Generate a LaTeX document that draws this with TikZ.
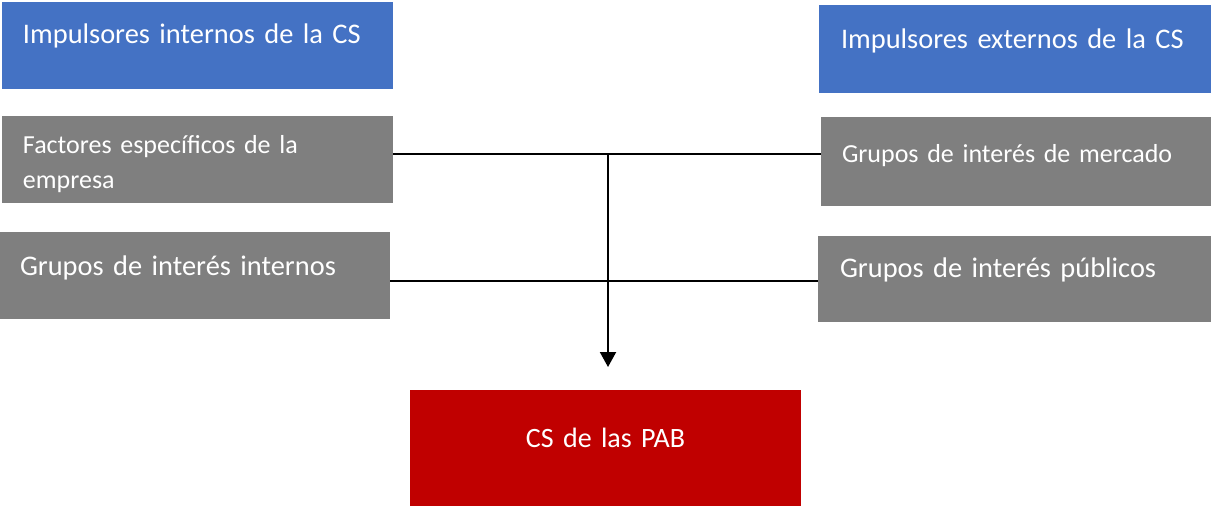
\documentclass[tikz,border=0pt]{standalone}
\usepackage{fontspec}
\usepackage{tikz}
\setmainfont{Carlito}
\usetikzlibrary{arrows.meta}
\definecolor{mblue}{RGB}{68, 114, 196}
\definecolor{mgray}{RGB}{127, 127, 127}
\definecolor{mred}{RGB}{192, 0, 0}

\tikzset{
  impbox/.style={anchor=north west, inner ysep=0pt, outer sep=0pt, align=left, text=white, font=\fontsize{28.4}{35}\selectfont},
  wire/.style={line width=2.5pt, black},
}

\begin{document}
\begin{tikzpicture}[x=1pt, y=-1pt]
    \useasboundingbox (0, 0) rectangle (1212, 506);

    \node [impbox, fill=mblue, inner xsep=21pt, text width=349pt, text height=41pt, text depth=46pt] (intimp) at (2, 2) {Impulsores internos de la CS};
    \node [impbox, fill=mblue, inner xsep=22pt, text width=348pt, text height=43pt, text depth=45pt] (extimp) at (819, 5) {Impulsores externos de la CS};

    \node [impbox, fill=mgray, inner xsep=21pt, text width=349pt, text height=37pt, text depth=50pt, font=\fontsize{26}{35}\selectfont] (fact) at (2, 116) {Factores específicos de la\\empresa};
    \node [impbox, fill=mgray, inner xsep=21pt, text width=348pt, text height=45pt, text depth=44pt, font=\fontsize{26}{35}\selectfont] (merc) at (821, 117) {Grupos de interés de mercado};

    \node [impbox, fill=mgray, inner xsep=20pt, text width=350pt, text height=43pt, text depth=44pt] (intg) at (0, 232) {Grupos de interés internos};
    \node [impbox, fill=mgray, inner xsep=22pt, text width=349pt, text height=41pt, text depth=45pt] (pub) at (818, 236) {Grupos de interés públicos};

    \node [impbox, fill=mred, align=center, inner xsep=0pt, text width=391pt, text height=57pt, text depth=59pt, font=\fontsize{28}{35}\selectfont] (pab) at (410, 390) {CS de las PAB};

    \coordinate (upper) at (608, 154);
    \coordinate (lower) at (608, 281);
    \coordinate (tip) at (608, 367);

    \draw [wire] (fact.east |- upper) -- (merc.west |- upper);
    \draw [wire] (intg.east |- lower) -- (pub.west |- lower);
    \draw [wire, line width=2pt, -{Triangle[width=16pt, length=15pt]}] (upper) -- (tip); % down to the PAB box

\end{tikzpicture}
\end{document}
